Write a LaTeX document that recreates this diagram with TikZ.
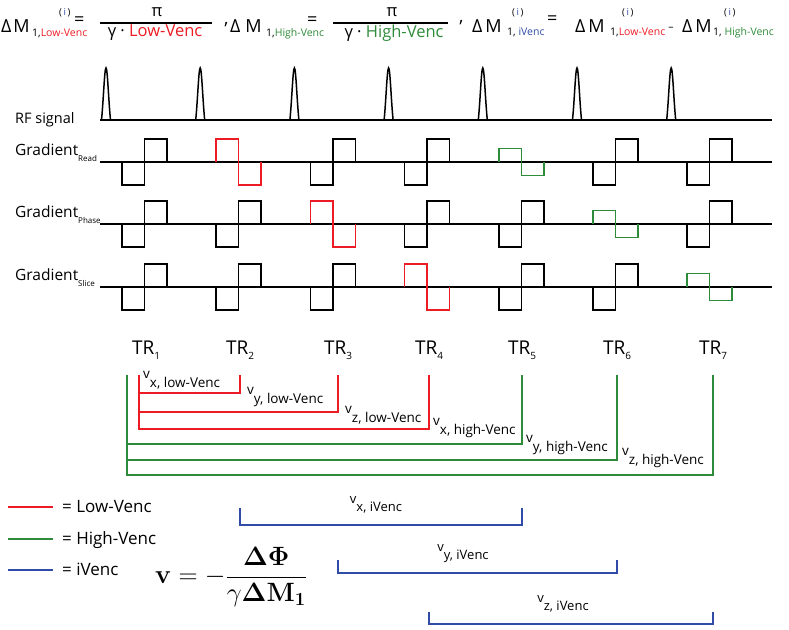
\RequirePackage{fix-cm}
\documentclass[tikz,border=0pt]{standalone}
\usepackage[no-math]{fontspec}
\setmainfont{Open Sans}
\usetikzlibrary{positioning}
\definecolor{lowred}{RGB}{237,28,36}
\definecolor{highgreen}{RGB}{46,139,58}
\definecolor{ivblue}{RGB}{48,76,166}
\newcommand{\vsym}[1]{\raisebox{0.6em}{v}#1}
\newcommand{\gsub}[1]{\raisebox{-0.45em}{\fontsize{8}{8}\selectfont #1}}
\newcommand{\lobe}[4]{\draw[#4] (#1+16,#2) -- ++(0,#3) -- ++(22.5,0) -- ++(0,{-2*(#3)}) -- ++(22.5,0) -- ++(0,#3);}
\tikzset{
  sig/.style={line width=1.5pt, black},
  lowline/.style={line width=2.2pt, lowred},
  highline/.style={line width=2.2pt, highgreen},
  ivline/.style={line width=2.6pt, ivblue},
  rowlabel/.style={anchor=base west, inner sep=0pt, font=\fontsize{15.5}{16}\selectfont},
  trlabel/.style={anchor=base, inner sep=0pt, font=\fontsize{19}{19}\selectfont},
  vlabel/.style={anchor=base west, inner sep=0pt, font=\fontsize{13.5}{14}\selectfont},
  ivlabel/.style={anchor=base, inner sep=0pt, font=\fontsize{13}{13}\selectfont},
  legtext/.style={anchor=base west, inner sep=0pt, font=\fontsize{17}{17}\selectfont},
  hbig/.style={anchor=base west, inner sep=0pt, font=\fontsize{18}{18}\selectfont},
  hsub/.style={anchor=base west, inner sep=0pt, font=\fontsize{10.5}{11}\selectfont},
  hsup/.style={anchor=base west, inner sep=0pt, font=\fontsize{9.5}{10}\selectfont},
  hfrac/.style={inner sep=0pt, font=\fontsize{16.5}{17}\selectfont}
}
\begin{document}
\begin{tikzpicture}[x=1pt,y=-1pt]
\useasboundingbox (0,0) rectangle (789,629);

\node[hbig] (dm1) at (1,32) {Δ\hspace{2pt}M};
\node[hsub] (dm1sub) at (32,36) {1,\textcolor{lowred}{Low-Venc}};
\node[hsup] (dm1sup) at (59,15) {(\,\textcolor{ivblue}{i}\,)};
\node[hbig, anchor=west] (eq1) at (74,21) {=};
\node[hfrac] (pi1) at (157,12) {π};
\node[hfrac] (den1) at (155,33) {γ · \textcolor{lowred}{Low-Venc}};
\draw[line width=1.2pt] (100,23) -- (212,23);
\node[hbig] (c1) at (224,24) {,};

\node[hbig] (dm2) at (230,32) {Δ\hspace{5pt}M};
\node[hsub] (dm2sub) at (266,36) {1,\textcolor{highgreen}{High-Venc}};
\node[hbig, anchor=west] (eq2) at (307,21) {=};
\node[hfrac] (pi2) at (392,12) {π};
\node[hfrac] (den2) at (394,33) {γ · \textcolor{highgreen}{High-Venc}};
\draw[line width=1.2pt] (333,23) -- (448,23);
\node[hbig] (c2) at (459,22) {,};

\node[hbig] (dm3) at (472,32) {Δ\hspace{3pt}M};
\node[hsub] (dm3sub) at (507,35) {1, \textcolor{ivblue}{iVenc}};
\node[hsup] (dm3sup) at (512,15) {(\,\textcolor{ivblue}{i}\,)};
\node[hbig, anchor=west] (eq3) at (547,20) {=};

\node[hbig] (dm4) at (575,32) {Δ\hspace{3pt}M};
\node[hsub] (dm4sub) at (610,35) {1,\textcolor{lowred}{Low-Venc}};
\node[hsup] (dm4sup) at (622,15) {(\,\textcolor{ivblue}{i}\,)};
\node[hsub, anchor=center] (minus) at (671,29) {–};

\node[hbig] (dm5) at (682,32) {Δ\hspace{3pt}M};
\node[hsub] (dm5sub) at (713,35) {1, \textcolor{highgreen}{High-Venc}};
\node[hsup] (dm5sup) at (724,15) {(\,\textcolor{ivblue}{i}\,)};

\node[rowlabel, font=\fontsize{14.5}{15}\selectfont] (rf) at (15,123) {RF signal};
\node[rowlabel] (gread) at (15,155) {Gradient\gsub{Read}};
\node[rowlabel] (gphase) at (15,217) {Gradient\gsub{Phase}};
\node[rowlabel] (gslice) at (15,280) {Gradient\gsub{Slice}};

\draw[sig] (100,120) -- (772,120);
\foreach \k in {0,...,6} {
  \pgfmathsetmacro\t{106+94.2*\k}
  \draw[sig] (\t-4.5,120) .. controls (\t-2.5,100) and (\t-1.5,68) .. (\t,68)
    .. controls (\t+1.5,68) and (\t+2.5,100) .. (\t+4.5,120);
}
\foreach \r/\base in {1/162,2/224,3/287} {
  \draw[sig] (100,\base) -- (772,\base);
  \foreach \k in {1,...,7} {
    \pgfmathsetmacro\t{106+94.2*(\k-1)}
    \ifnum\k=\numexpr\r+1\relax
      \lobe{\t}{\base}{-23}{sig,lowred}
    \else\ifnum\k=\numexpr\r+4\relax
      \lobe{\t}{\base}{-13.5}{sig,highgreen}
    \else
      \lobe{\t}{\base}{23}{sig}
    \fi\fi
  }
}

\foreach \k/\x in {1/146,2/240,3/338,4/429,5/522,6/617,7/713}
  \node[trlabel] (tr\k) at (\x,354) {TR\raisebox{-0.3em}{\fontsize{10}{10}\selectfont\k}};

\coordinate (top) at (0,375);
\coordinate (rl) at (139,375);
\coordinate (gl) at (127,375);
\foreach \k/\lv in {2/393,3/412,4/429}
  \draw[lowline] (rl) |- (tr\k |- 0,\lv) -- (tr\k |- top);
\foreach \k/\lv in {5/444,6/460,7/475}
  \draw[highline] (gl) |- (tr\k |- 0,\lv) -- (tr\k |- top);

\node[vlabel] (vxlow) at (143,387) {\vsym{x, low-Venc}};
\node[vlabel] (vylow) at (247,403) {\vsym{y, low-Venc}};
\node[vlabel] (vzlow) at (345,422) {\vsym{z, low-Venc}};
\node[vlabel] (vxhigh) at (433,434) {\vsym{x, high-Venc}};
\node[vlabel] (vyhigh) at (526,451) {\vsym{y, high-Venc}};
\node[vlabel] (vzhigh) at (622,464) {\vsym{z, high-Venc}};

\draw[ivline] (tr2 |- 0,508) -- (tr2 |- 0,525) -- (tr5 |- 0,525) -- (tr5 |- 0,508);
\draw[ivline] (tr3 |- 0,560) -- (tr3 |- 0,573) -- (tr6 |- 0,573) -- (tr6 |- 0,560);
\draw[ivline] (tr4 |- 0,612) -- (tr4 |- 0,624) -- (tr7 |- 0,624) -- (tr7 |- 0,612);
\node[ivlabel] (vxiv) at (376,511) {\vsym{x, iVenc}};
\node[ivlabel] (vyiv) at (463,559) {\vsym{y, iVenc}};
\node[ivlabel] (vziv) at (563,610) {\vsym{z, iVenc}};

\foreach \c/\y/\t [count=\i] in {lowline/507/Low-Venc,highline/539/High-Venc,ivline/570/iVenc} {
  \coordinate (key\i) at (8,\y);
  \draw[\c] (key\i) -- ++(45,0);
  \node[legtext] (leg\i) at (62,\y+5) {= \t};
}

\node[font=\fontsize{26.5}{27}\selectfont] (vform) at (231,577)
  {$\mathbf{v} = -\displaystyle\frac{\mathbf{\Delta\Phi}}{\gamma\mathbf{\Delta M_1}}$};
\end{tikzpicture}
\end{document}
